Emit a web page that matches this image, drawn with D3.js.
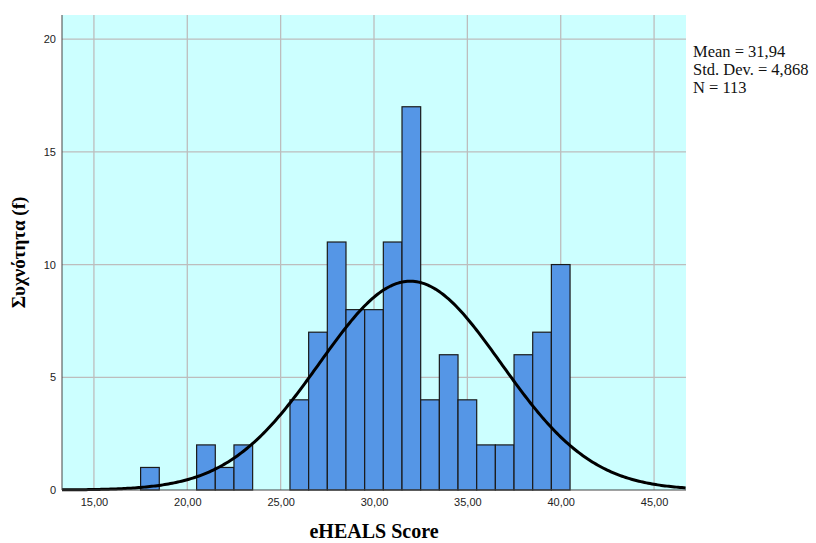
<!DOCTYPE html>
<html>
<head>
<meta charset="utf-8">
<script src="https://cdn.jsdelivr.net/npm/d3@7"></script>
<style>
  body { margin: 0; background: #fff; }
  svg { display: block; }
</style>
</head>
<body>
<div id="chart"></div>
<script>
// histogram bins (centre of each 1-point bin) and counts
const binCentres = [18, 21, 22, 23, 26, 27, 28, 29, 30, 31, 32, 33, 34, 35, 36, 37, 38, 39, 40];
const counts     = [1, 2, 1, 2, 4, 7, 11, 8, 8, 11, 17, 4, 6, 4, 2, 2, 6, 7, 10];
const xTicks = [15, 20, 25, 30, 35, 40, 45];
const yTicks = [0, 5, 10, 15, 20];
const statsLines = ['Mean = 31,94', 'Std. Dev. = 4,868', 'N = 113'];
const mean = 31.94, sd = 4.868, n = 113, binWidth = 1;

const width = 816, height = 543;
const plot = { left: 62, right: 686, top: 15, bottom: 490 };

const svg = d3.select('#chart').append('svg')
  .attr('width', width)
  .attr('height', height);

const x = d3.scaleLinear().domain([13.29, 46.71]).range([plot.left, plot.right]);
const y = d3.scaleLinear().domain([0, 21.07]).range([plot.bottom, plot.top]);

svg.append('rect')
  .attr('x', plot.left).attr('y', plot.top)
  .attr('width', plot.right - plot.left)
  .attr('height', plot.bottom - plot.top)
  .attr('fill', '#ccffff');

// grid
svg.append('g').selectAll('line')
  .data(xTicks).enter().append('line')
  .attr('x1', d => x(d)).attr('x2', d => x(d))
  .attr('y1', plot.top).attr('y2', plot.bottom)
  .attr('stroke', '#bdbdbd').attr('stroke-width', 1.3);
svg.append('g').selectAll('line')
  .data(yTicks.filter(d => d > 0)).enter().append('line')
  .attr('x1', plot.left).attr('x2', plot.right)
  .attr('y1', d => y(d)).attr('y2', d => y(d))
  .attr('stroke', '#bdbdbd').attr('stroke-width', 1.3);

// bars
svg.append('g').selectAll('rect')
  .data(binCentres.map((c, i) => ({ c, v: counts[i] })))
  .enter().append('rect')
  .attr('x', d => x(d.c - binWidth / 2))
  .attr('y', d => y(d.v))
  .attr('width', d => x(d.c + binWidth / 2) - x(d.c - binWidth / 2))
  .attr('height', d => y(0) - y(d.v))
  .attr('fill', '#5596e6')
  .attr('stroke', '#1a1a1a')
  .attr('stroke-width', 1.2);

// normal curve
const curvePts = d3.range(13.29, 46.72, 0.1).map(v => [v,
  n * binWidth * Math.exp(-0.5 * ((v - mean) / sd) ** 2) / (sd * Math.sqrt(2 * Math.PI))]);
svg.append('path')
  .datum(curvePts)
  .attr('fill', 'none')
  .attr('stroke', '#000')
  .attr('stroke-width', 3)
  .attr('d', d3.line().x(d => x(d[0])).y(d => y(d[1])));

// axes
const xAxis = svg.append('g')
  .attr('transform', `translate(0,${plot.bottom})`)
  .call(d3.axisBottom(x).tickValues(xTicks).tickSize(0).tickPadding(8)
    .tickFormat(d => d3.format('.2f')(d).replace('.', ',')));
const yAxis = svg.append('g')
  .attr('transform', `translate(${plot.left},0)`)
  .call(d3.axisLeft(y).tickValues(yTicks).tickSize(0).tickPadding(6));
[xAxis, yAxis].forEach(g => {
  g.select('.domain').remove();
  g.selectAll('text')
    .attr('font-family', 'Liberation Sans, Arial, sans-serif')
    .attr('font-size', 11)
    .attr('fill', '#222');
});

svg.append('line')
  .attr('x1', plot.left).attr('x2', plot.left)
  .attr('y1', plot.top).attr('y2', plot.bottom)
  .attr('stroke', '#444').attr('stroke-width', 1);
svg.append('line')
  .attr('x1', plot.left).attr('x2', plot.right)
  .attr('y1', plot.bottom).attr('y2', plot.bottom)
  .attr('stroke', '#444').attr('stroke-width', 1);

// titles
svg.append('text')
  .attr('x', (plot.left + plot.right) / 2)
  .attr('y', 538)
  .attr('text-anchor', 'middle')
  .attr('font-family', 'Liberation Serif, Times New Roman, serif')
  .attr('font-weight', 'bold')
  .attr('font-size', 20)
  .text('eHEALS Score');

svg.append('text')
  .attr('transform', `translate(25,${(plot.top + plot.bottom) / 2}) rotate(-90)`)
  .attr('text-anchor', 'middle')
  .attr('font-family', 'Liberation Serif, Times New Roman, serif')
  .attr('font-weight', 'bold')
  .attr('font-size', 19)
  .text('Συχνότητα (f)');

svg.append('g').selectAll('text')
  .data(statsLines).enter().append('text')
  .attr('x', 693)
  .attr('y', (d, i) => 57 + i * 18)
  .attr('font-family', 'Liberation Serif, Times New Roman, serif')
  .attr('font-size', 16.5)
  .attr('fill', '#111')
  .text(d => d);
</script>
</body>
</html>
